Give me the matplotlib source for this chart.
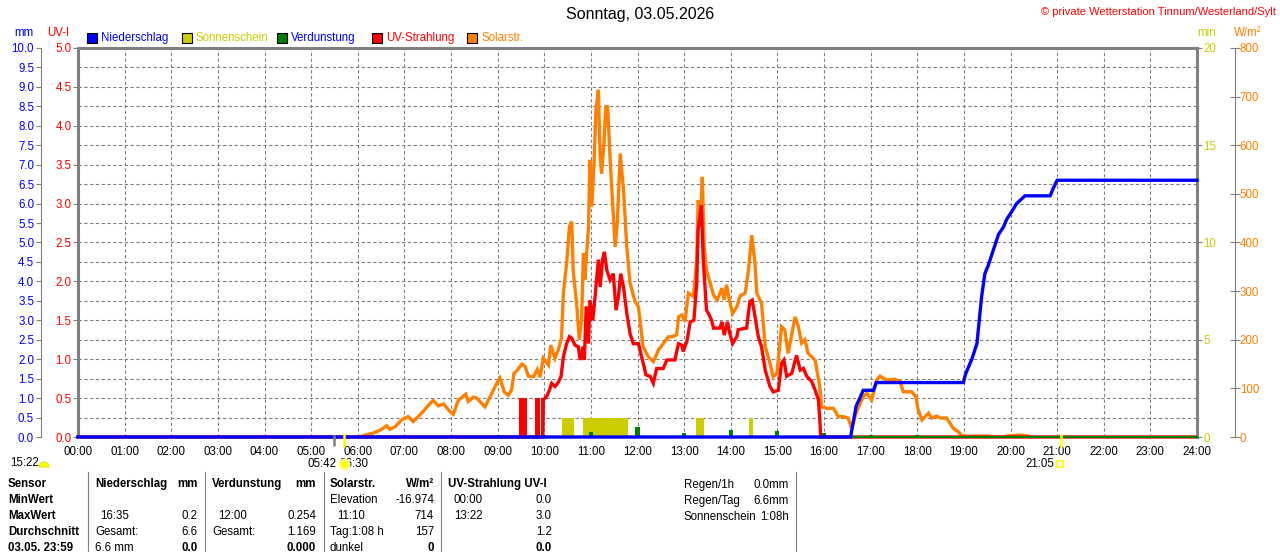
import matplotlib
matplotlib.use('Agg')
import matplotlib.pyplot as plt
from matplotlib.patches import Rectangle, Wedge
from matplotlib.lines import Line2D
from matplotlib.transforms import IdentityTransform

plt.rcParams['font.family'] = ['Liberation Sans', 'DejaVu Sans']
plt.rcParams['font.size'] = 8.3

# ---------------- data ----------------
hours = list(range(25))
hour_labels = [f'{h:02d}:00' for h in hours]

solar_h = [6.09, 6.33, 6.48, 6.62, 6.69, 6.80, 6.94, 7.08, 7.19, 7.37,
           7.55, 7.62, 7.73, 7.84, 7.98, 8.05, 8.16, 8.32, 8.37, 8.48,
           8.55, 8.73, 8.84, 8.98, 9.05, 9.14, 9.23, 9.30, 9.35, 9.41,
           9.52, 9.59, 9.66, 9.77, 9.85, 9.91, 9.98, 10.09, 10.14, 10.23,
           10.30, 10.37, 10.41, 10.48, 10.54, 10.59, 10.62, 10.70, 10.75, 10.80,
           10.84, 10.87, 10.95, 10.98, 11.02, 11.07, 11.11, 11.16, 11.20, 11.23,
           11.28, 11.32, 11.36, 11.41, 11.47, 11.52, 11.57, 11.63, 11.70, 11.77,
           11.84, 11.95, 12.02, 12.12, 12.23, 12.34, 12.45, 12.66, 12.73, 12.84,
           12.88, 12.95, 13.02, 13.09, 13.20, 13.27, 13.30, 13.36, 13.39, 13.43,
           13.48, 13.56, 13.63, 13.71, 13.81, 13.86, 13.91, 13.97, 14.04, 14.13,
           14.20, 14.31, 14.38, 14.45, 14.52, 14.56, 14.66, 14.74, 14.84, 14.91,
           14.99, 15.09, 15.16, 15.23, 15.38, 15.45, 15.52, 15.59, 15.66, 15.81,
           15.91, 15.95, 16.06, 16.20, 16.31, 16.41, 16.52, 16.59, 16.70, 16.84,
           16.92, 17.02, 17.06, 17.13, 17.20, 17.35, 17.52, 17.63, 17.70, 17.88,
           17.97, 18.02, 18.10, 18.24, 18.31, 18.42, 18.49, 18.63, 18.77, 18.88,
           18.95, 19.13, 19.31, 19.52, 19.60, 19.85, 19.92, 20.20, 20.38, 20.42]
solar_w = [2, 8, 14, 23, 16, 21, 35, 42, 32, 49,
           69, 75, 64, 68, 52, 47, 76, 88, 73, 82,
           80, 62, 83, 110, 121, 93, 86, 97, 131, 136,
           150, 145, 125, 124, 139, 123, 162, 148, 189, 162,
           179, 203, 296, 357, 433, 443, 343, 268, 200, 241,
           378, 323, 433, 570, 474, 570, 673, 714, 577, 542,
           604, 679, 679, 577, 474, 391, 446, 583, 508, 391,
           316, 278, 268, 186, 165, 155, 179, 206, 206, 210,
           247, 251, 237, 296, 289, 364, 487, 467, 535, 391,
           343, 316, 292, 282, 306, 282, 313, 282, 254, 268,
           290, 296, 343, 415, 357, 296, 275, 186, 152, 124,
           131, 227, 220, 172, 247, 227, 193, 200, 172, 158,
           103, 62, 59, 59, 42, 42, 39, 18, 52, 83,
           90, 76, 90, 117, 125, 117, 119, 114, 93, 93,
           83, 56, 35, 49, 39, 43, 39, 39, 18, 11,
           3, 1, 2, 2, 0, 0, 2, 4, 2, 0]

uv_h = [0.0, 9.97, 9.98, 10.05, 10.11, 10.16, 10.23, 10.30, 10.36, 10.41,
        10.48, 10.54, 10.59, 10.66, 10.73, 10.77, 10.83, 10.86, 10.90, 10.95,
        10.98, 11.04, 11.09, 11.16, 11.20, 11.25, 11.29, 11.34, 11.41, 11.48,
        11.54, 11.59, 11.64, 11.70, 11.77, 11.84, 11.91, 12.02, 12.09, 12.18,
        12.27, 12.34, 12.41, 12.55, 12.63, 12.80, 12.88, 12.95, 12.98, 13.06,
        13.13, 13.21, 13.27, 13.30, 13.37, 13.41, 13.48, 13.52, 13.59, 13.63,
        13.77, 13.81, 13.86, 13.93, 13.98, 14.04, 14.13, 14.16, 14.34, 14.41,
        14.46, 14.52, 14.59, 14.66, 14.74, 14.84, 14.91, 15.02, 15.09, 15.14,
        15.20, 15.31, 15.41, 15.49, 15.56, 15.63, 15.74, 15.81, 15.88, 15.91,
        15.93, 24.0]
uv_v = [0.0, 0.0, 0.48, 0.52, 0.60, 0.69, 0.65, 0.70, 0.78, 1.03,
        1.20, 1.29, 1.27, 1.18, 1.16, 0.99, 1.16, 0.99, 1.68, 1.20,
        1.76, 1.50, 1.80, 2.28, 1.93, 2.28, 2.38, 2.15, 2.02, 2.10,
        1.63, 1.80, 2.10, 1.93, 1.59, 1.33, 1.20, 1.20, 1.03, 0.80,
        0.78, 0.69, 0.88, 0.88, 0.99, 0.99, 1.20, 1.18, 1.10, 1.23,
        1.48, 1.50, 1.98, 2.66, 2.98, 2.28, 1.63, 1.59, 1.50, 1.40,
        1.40, 1.48, 1.31, 1.48, 1.33, 1.20, 1.29, 1.38, 1.40, 1.74,
        1.76, 1.55, 1.29, 1.16, 0.86, 0.65, 0.58, 0.60, 0.95, 0.99,
        0.78, 0.82, 1.05, 0.86, 0.88, 0.78, 0.71, 0.60, 0.48, 0.22,
        0.0, 0.0]
uv_block_start = [9.46, 9.81, 9.93]
uv_block_end = [9.64, 9.91, 9.99]
uv_block_val = [0.5, 0.5, 0.5]

sun_start = [10.39, 10.84, 13.26, 14.40]
sun_end = [10.64, 11.79, 13.43, 14.48]
sun_min = [1.0, 1.0, 1.0, 1.0]

evap_h = [8, 9, 10, 11, 12, 13, 14, 15, 16, 17, 18]
evap_mm = [0.01, 0.05, 0.05, 0.13, 0.254, 0.09, 0.18, 0.16, 0.09, 0.04, 0.04]

rain_h = [0.0, 16.57, 16.69, 16.77, 16.84, 17.06, 17.12, 18.99, 19.03, 19.10,
          19.17, 19.28, 19.33, 19.38, 19.45, 19.52, 19.63, 19.74, 19.85, 19.92,
          20.03, 20.13, 20.31, 20.85, 20.92, 21.00, 24.0]
rain_mm = [0.0, 0.0, 0.8, 1.0, 1.2, 1.2, 1.4, 1.4, 1.6, 1.8,
           2.0, 2.4, 3.0, 3.6, 4.2, 4.4, 4.8, 5.2, 5.4, 5.6,
           5.8, 6.0, 6.2, 6.2, 6.4, 6.6, 6.6]

dawn_h = 5.49
sunrise_h = 5.70
sunset_h = 21.083

mm_ticks = [i * 0.5 for i in range(21)]
uv_ticks = [i * 0.5 for i in range(11)]
min_ticks = [0, 5, 10, 15, 20]
w_ticks = list(range(0, 801, 100))

legend_items = ['Niederschlag', 'Sonnenschein', 'Verdunstung', 'UV-Strahlung', 'Solarstr.']
legend_box = ['#0000FF', '#CCCC00', '#008000', '#FF0000', '#FF8000']
legend_txt = ['#0000FF', '#CCCC00', '#0000FF', '#FF0000', '#FF8000']

table_rows = ['Sensor', 'MinWert', 'MaxWert', 'Durchschnitt', '03.05. 23:59']

# ---------------- layout helpers ----------------
W, H = 1280, 552
fig = plt.figure(figsize=(12.8, 5.52), dpi=100)
fig.patch.set_facecolor('white')
GRAY = '#808080'
BLUE = '#0000FF'
RED = '#FF0000'
ORANGE = '#FF8000'
OLIVE = '#CCCC00'
GREEN = '#008000'
FS = 8.3


def fx(x):
    return x / W


def fy(y):
    return 1 - y / H


def ftext(x, y, s, **kw):
    kw.setdefault('va', 'center')
    kw.setdefault('fontsize', FS)
    fig.text(fx(x), fy(y), s, **kw)


# ---------------- main axes (mm, grid, x labels) ----------------
ax = fig.add_axes([fx(78), fy(437), (1197 - 78) / W, (437 - 48) / H])
ax.set_xlim(0, 24)
ax.set_ylim(0, 10)
ax.set_xticks(hours)
ax.set_xticklabels(hour_labels)
ax.set_yticks(mm_ticks)
ax.set_yticklabels([f'{v:.1f}' for v in mm_ticks])
ax.grid(True, color=GRAY, linestyle=(0, (3, 2.2)), linewidth=0.8)
ax.set_axisbelow(True)
for s in ['top', 'right', 'bottom']:
    ax.spines[s].set_visible(False)
ax.spines['left'].set_position(('outward', 27))
ax.spines['left'].set_color(GRAY)
ax.spines['left'].set_linewidth(0.8)
ax.tick_params(axis='y', direction='out', length=3.6, width=0.8, color=GRAY,
               labelcolor=BLUE, labelsize=FS, pad=1)
ax.tick_params(axis='x', length=0, pad=6.5, labelsize=FS)

# ---------------- sunshine minutes axis ----------------
axmin = ax.twinx()
axmin.set_ylim(0, 20)
axmin.set_yticks(min_ticks)
axmin.set_yticklabels([str(v) for v in min_ticks])
for s in axmin.spines.values():
    s.set_visible(False)
axmin.tick_params(axis='y', direction='out', length=3.6, width=0.8, color=GRAY,
                  labelcolor=OLIVE, labelsize=FS, pad=1)
axmin.bar(sun_start, sun_min, width=[e - s for s, e in zip(sun_start, sun_end)],
          align='edge', color=OLIVE, linewidth=0)

# ---------------- solar radiation axis ----------------
axw = ax.twinx()
axw.set_ylim(0, 800)
axw.set_yticks(w_ticks)
axw.set_yticklabels([str(v) for v in w_ticks])
for k, s in axw.spines.items():
    s.set_visible(k == 'right')
axw.spines['right'].set_position(('outward', 27))
axw.spines['right'].set_color(GRAY)
axw.spines['right'].set_linewidth(0.8)
axw.tick_params(axis='y', direction='inout', length=6.5, width=0.8, color=GRAY,
                labelcolor=ORANGE, labelsize=FS, pad=0.5)
axw.plot(solar_h, solar_w, color=ORANGE, linewidth=2.4, solid_joinstyle='miter')

# ---------------- UV axis (also the plot frame) ----------------
axuv = ax.twinx()
axuv.set_ylim(0, 5)
axuv.yaxis.set_ticks_position('left')
axuv.yaxis.set_label_position('left')
axuv.set_yticks(uv_ticks)
axuv.set_yticklabels([f'{v:.1f}' for v in uv_ticks])
for k, s in axuv.spines.items():
    s.set_visible(k != 'bottom')
    s.set_color(GRAY)
    s.set_linewidth(2.2)
axuv.tick_params(axis='y', direction='out', length=3.6, width=0.8, color=GRAY,
                 labelcolor=RED, labelsize=FS, pad=1)
axuv.bar(uv_block_start, uv_block_val,
         width=[e - s for s, e in zip(uv_block_start, uv_block_end)],
         align='edge', color=RED, linewidth=0)
axuv.plot(uv_h, uv_v, color=RED, linewidth=2.4, solid_joinstyle='miter', clip_on=False)

# ---------------- rain / evaporation (mm) on top ----------------
axr = ax.twinx()
axr.set_ylim(0, 10)
axr.set_axis_off()
axr.set_zorder(5)
axr.plot([0, 24], [0, 0], color=GREEN, linewidth=1.6, clip_on=False)
axr.bar(evap_h, evap_mm, width=0.09, color=GREEN, linewidth=0)
axr.plot(rain_h, rain_mm, color=BLUE, linewidth=2.4, clip_on=False,
         solid_joinstyle='miter')
# sunrise / sunset markers below the axis
axr.vlines([sunrise_h, sunset_h], -0.26, 0.08, colors='#FFFF00', linewidth=1.8, clip_on=False)
axr.vlines([dawn_h], -0.24, 0.06, colors=GRAY, linewidth=1.8, clip_on=False)
axr.plot([sunrise_h], [-0.69], 'o', ms=7, color='#FFFF00', mec='#FFFF90', mew=1.5,
         clip_on=False, zorder=10)

# ---------------- titles, units, legend ----------------
ftext(640, 15, 'Sonntag, 03.05.2026', ha='center', fontsize=11.5)
ftext(1276, 12, '© private Wetterstation Tinnum/Westerland/Sylt', ha='right', color=RED,
      fontsize=8)
ftext(14, 33, 'mm', color=BLUE)
ftext(47, 33, 'UV-I', color=RED)
ftext(1197, 33, 'min', color=OLIVE)
ftext(1234, 33, 'W/m²', color=ORANGE)

leg_x = [87, 182, 277, 372, 467]
for x, name, bc, tc in zip(leg_x, legend_items, legend_box, legend_txt):
    fig.add_artist(Rectangle((x, H - 43), 10, 10, transform=IdentityTransform(),
                             facecolor=bc, edgecolor='black', linewidth=0.8))
    ftext(x + 14, 38, name, color=tc)

# ---------------- sun times ----------------
ftext(10, 463, '15:22')
fig.add_artist(Wedge((44, H - 467), 5, 0, 180, transform=IdentityTransform(),
                     facecolor='#FFFF00', edgecolor='#E8E800', linewidth=0.8))
ftext(337, 464, '05:42', ha='right')
ftext(339, 464, '06:30', ha='left')
ftext(1054, 464, '21:05', ha='right')
fig.add_artist(Rectangle((1057, H - 467), 6, 6, transform=IdentityTransform(),
                         fill=False, edgecolor='#FFFF00', linewidth=1.3))

# ---------------- table ----------------
for x in [88, 205, 324, 441, 796]:
    fig.add_artist(Line2D([fx(x), fx(x)], [fy(472), fy(552)], transform=fig.transFigure,
                          color=GRAY, linewidth=0.8))

row_y = [484, 500, 516, 532, 548]
for y, r in zip(row_y, table_rows):
    ftext(8, y, r, fontweight='bold')

# Niederschlag
ftext(95, row_y[0], 'Niederschlag', fontweight='bold')
ftext(198, row_y[0], 'mm', fontweight='bold', ha='right')
ftext(100, row_y[2], '16:35')
ftext(198, row_y[2], '0.2', ha='right')
ftext(95, row_y[3], 'Gesamt:')
ftext(198, row_y[3], '6.6', ha='right')
ftext(95, row_y[4], '6.6 mm')
ftext(198, row_y[4], '0.0', ha='right', fontweight='bold')
# Verdunstung
ftext(212, row_y[0], 'Verdunstung', fontweight='bold')
ftext(316, row_y[0], 'mm', fontweight='bold', ha='right')
ftext(218, row_y[2], '12:00')
ftext(316, row_y[2], '0.254', ha='right')
ftext(212, row_y[3], 'Gesamt:')
ftext(316, row_y[3], '1.169', ha='right')
ftext(316, row_y[4], '0.000', ha='right', fontweight='bold')
# Solarstr.
ftext(330, row_y[0], 'Solarstr.', fontweight='bold')
ftext(434, row_y[0], 'W/m²', fontweight='bold', ha='right')
ftext(330, row_y[1], 'Elevation')
ftext(434, row_y[1], '-16.974', ha='right')
ftext(337, row_y[2], '11:10')
ftext(434, row_y[2], '714', ha='right')
ftext(330, row_y[3], 'Tag:1:08 h')
ftext(434, row_y[3], '157', ha='right')
ftext(330, row_y[4], 'dunkel')
ftext(434, row_y[4], '0', ha='right', fontweight='bold')
# UV
ftext(448, row_y[0], 'UV-Strahlung UV-I', fontweight='bold')
ftext(454, row_y[1], '00:00')
ftext(552, row_y[1], '0.0', ha='right')
ftext(454, row_y[2], '13:22')
ftext(552, row_y[2], '3.0', ha='right')
ftext(552, row_y[3], '1.2', ha='right')
ftext(552, row_y[4], '0.0', ha='right', fontweight='bold')
# summary block
ftext(684, 485, 'Regen/1h')
ftext(789, 485, '0.0mm', ha='right')
ftext(684, 501, 'Regen/Tag')
ftext(789, 501, '6.6mm', ha='right')
ftext(684, 517, 'Sonnenschein')
ftext(789, 517, '1:08h', ha='right')

fig.savefig('out.png', dpi=100)
